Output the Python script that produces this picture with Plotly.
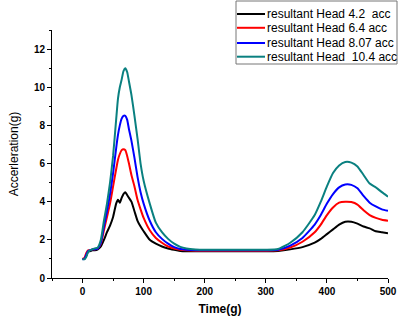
import plotly.graph_objects as go

time = [0, 3, 6, 9, 12, 16, 20, 25, 30, 35, 40, 45, 50, 55, 58, 61, 64, 67, 70, 73, 76, 80, 85, 90, 95, 100,
        110, 120, 130, 140, 150, 160, 170, 185, 200, 250, 300, 320, 340, 360, 380, 390, 400, 410, 420, 430,
        440, 450, 460, 470, 480, 490, 500]

head_4_2 = [1.0, 1.0, 1.15, 1.4, 1.4, 1.45, 1.45, 1.5, 1.65, 2.0, 2.4, 2.75, 3.2, 3.9, 4.1, 3.95, 4.2, 4.4, 4.5, 4.35,
            4.2, 4.0, 3.5, 3.0, 2.7, 2.45, 2.0, 1.8, 1.65, 1.55, 1.48, 1.42, 1.4, 1.4, 1.4, 1.4, 1.4, 1.42, 1.5,
            1.62, 1.85, 2.05, 2.3, 2.55, 2.8, 2.95, 2.95, 2.85, 2.7, 2.6, 2.45, 2.4, 2.34]
head_6_4 = [1.0, 1.05, 1.3, 1.45, 1.45, 1.5, 1.5, 1.55, 1.8, 2.5, 3.2, 3.9, 4.8, 5.7, 6.2, 6.5, 6.7, 6.75, 6.7, 6.4,
            6.0, 5.4, 4.8, 4.1, 3.6, 3.15, 2.5, 2.1, 1.85, 1.65, 1.55, 1.48, 1.45, 1.43, 1.43, 1.43, 1.43, 1.45,
            1.6, 1.9, 2.4, 2.8, 3.3, 3.7, 3.95, 4.0, 3.98, 3.85, 3.55, 3.3, 3.15, 3.05, 3.0]
head_8_07 = [0.98, 1.0, 1.2, 1.4, 1.45, 1.5, 1.5, 1.55, 1.85, 2.7, 3.5, 4.4, 5.5, 6.8, 7.5, 8.0, 8.35, 8.5, 8.5, 8.3,
             7.8, 7.2, 6.3, 5.3, 4.5, 3.9, 3.0, 2.4, 2.05, 1.8, 1.62, 1.52, 1.48, 1.45, 1.45, 1.45, 1.45, 1.48,
             1.7, 2.1, 2.8, 3.3, 3.9, 4.4, 4.75, 4.9, 4.88, 4.7, 4.3, 3.95, 3.75, 3.6, 3.52]
head_10_4 = [0.98, 0.98, 1.1, 1.35, 1.45, 1.5, 1.55, 1.6, 2.0, 3.0, 3.9, 5.0, 6.4, 8.3, 9.4, 10.0, 10.4, 10.85, 11.0,
             10.8, 10.3, 9.6, 8.5, 7.3, 6.0, 5.1, 3.9, 2.9, 2.4, 2.05, 1.8, 1.63, 1.55, 1.5, 1.48, 1.48, 1.48, 1.52,
             1.85, 2.4, 3.3, 4.0, 4.8, 5.5, 5.9, 6.08, 6.05, 5.85, 5.4, 4.95, 4.75, 4.5, 4.26]

series_names = ["resultant Head 4.2\u00a0\u00a0acc", "resultant Head 6.4 acc",
                "resultant Head 8.07 acc", "resultant Head\u00a0\u00a010.4 acc"]
series_values = [head_4_2, head_6_4, head_8_07, head_10_4]
colors = ["#000000", "#ff0000", "#0000ff", "#0a8080"]

W, H = 401, 319
ML, MR, MT, MB = 52, 13, 30, 41
PW, PH = W - ML - MR, H - MT - MB

def px(xp):
    return (xp - ML) / PW

def py(yp):
    return (H - MB - yp) / PH

fig = go.Figure()
for name, vals, c in zip(series_names, series_values, colors):
    fig.add_trace(go.Scatter(x=time, y=vals, mode="lines", name=name, showlegend=False,
                             line=dict(color=c, width=2, shape="spline", smoothing=0.5)))

font = "Liberation Sans, Arial, sans-serif"

# compact legend box, like the original
shapes = [dict(type="rect", xref="paper", yref="paper", x0=px(236), x1=px(397), y0=py(64), y1=py(1),
               line=dict(color="#777777", width=1), fillcolor="white", layer="above")]
annotations = []
row_y = [14, 27.8, 43, 56.7]
for name, c, ry in zip(series_names, colors, row_y):
    shapes.append(dict(type="line", xref="paper", yref="paper", x0=px(237), x1=px(265), y0=py(ry), y1=py(ry),
                       line=dict(color=c, width=2), layer="above"))
    annotations.append(dict(xref="paper", yref="paper", x=px(265), y=py(ry), xanchor="left", yanchor="middle",
                            text=name, showarrow=False, font=dict(size=12, family=font, color="black")))

fig.update_layout(
    width=W, height=H,
    margin=dict(l=ML, r=MR, t=MT, b=MB, autoexpand=False),
    paper_bgcolor="white", plot_bgcolor="white",
    font=dict(family=font, color="black"),
    showlegend=False,
    shapes=shapes, annotations=annotations,
    xaxis=dict(range=[-50, 500], tickvals=[0, 100, 200, 300, 400, 500], automargin=False,
               showline=True, linecolor="black", linewidth=1, mirror=False,
               ticks="outside", ticklen=4, tickcolor="black", showgrid=False, zeroline=False,
               tickfont=dict(size=10, family=font, weight="bold"),
               minor=dict(dtick=50, tick0=0, ticks="outside", ticklen=2, tickcolor="black"),
               title=dict(text="<b>Time(g)</b>", font=dict(size=12), standoff=8)),
    yaxis=dict(range=[0, 13], tickvals=[0, 2, 4, 6, 8, 10, 12], automargin=False,
               showline=True, linecolor="black", linewidth=1, mirror=False,
               ticks="outside", ticklen=4, tickcolor="black", showgrid=False, zeroline=False,
               tickfont=dict(size=10, family=font, weight="bold"),
               minor=dict(dtick=1, tick0=0, ticks="outside", ticklen=2, tickcolor="black"),
               title=dict(text="Accerleration(g)", font=dict(size=12), standoff=12)),
)
fig.write_html("out.html", config={"displayModeBar": False},
               post_script="document.body.style.margin='0';document.body.style.overflow='hidden';")
